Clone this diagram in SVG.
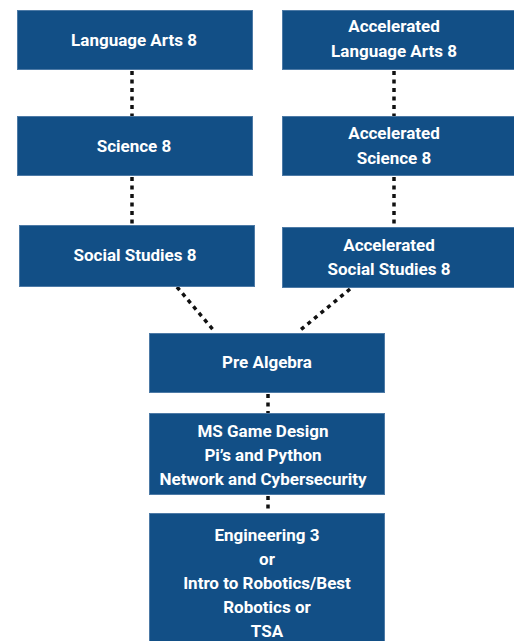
<svg xmlns="http://www.w3.org/2000/svg" width="514" height="641" viewBox="0 0 514 641">
<style>
.box{fill:#124f86;stroke:#4d7aa6;stroke-width:1}
.t{font-family:Roboto,"Liberation Sans",sans-serif;font-weight:bold;font-size:17px;fill:#ffffff;text-anchor:middle}
.c{stroke:#111111;stroke-width:3.5;stroke-dasharray:4 4.5;fill:none}
</style>
<rect width="514" height="641" fill="#ffffff"/>
<g id="connectors">
<line class="c" x1="132" y1="71" x2="132" y2="116"/>
<line class="c" x1="394" y1="71" x2="394" y2="116"/>
<line class="c" x1="132" y1="177" x2="132" y2="225"/>
<line class="c" x1="394" y1="177" x2="394" y2="227"/>
<line class="c" x1="177" y1="287" x2="215" y2="332"/>
<line class="c" x1="350" y1="289" x2="298" y2="332"/>
<line class="c" x1="268" y1="394" x2="268" y2="413"/>
<line class="c" x1="268" y1="496" x2="268" y2="513"/>
</g>
<g id="la8"><rect class="box" x="17.5" y="10.5" width="235" height="59"/><text class="t" x="134" y="46">Language Arts 8</text></g>
<g id="ala8"><rect class="box" x="282.5" y="10.5" width="240" height="59"/><text class="t" x="394" y="32">Accelerated</text><text class="t" x="394" y="57">Language Arts 8</text></g>
<g id="sci8"><rect class="box" x="17.5" y="116.5" width="235" height="59"/><text class="t" x="134" y="152">Science 8</text></g>
<g id="asci8"><rect class="box" x="282.5" y="116.5" width="240" height="59"/><text class="t" x="394" y="139">Accelerated</text><text class="t" x="394" y="164">Science 8</text></g>
<g id="ss8"><rect class="box" x="19.5" y="225.5" width="235" height="61"/><text class="t" x="135" y="261">Social Studies 8</text></g>
<g id="ass8"><rect class="box" x="282.5" y="227.5" width="240" height="60"/><text class="t" x="389" y="251">Accelerated</text><text class="t" x="389" y="275">Social Studies 8</text></g>
<g id="prealg"><rect class="box" x="149.5" y="333.5" width="235" height="59"/><text class="t" x="267" y="368">Pre Algebra</text></g>
<g id="ms"><rect class="box" x="149.5" y="413.5" width="235" height="81"/><text class="t" x="263" y="437">MS Game Design</text><text class="t" x="263" y="461">Pi’s and Python</text><text class="t" x="263" y="485">Network and Cybersecurity</text></g>
<g id="eng"><rect class="box" x="149.5" y="513.5" width="235" height="140"/><text class="t" x="267" y="541">Engineering 3</text><text class="t" x="267" y="565">or</text><text class="t" x="267" y="589">Intro to Robotics/Best</text><text class="t" x="267" y="613">Robotics or</text><text class="t" x="267" y="637">TSA</text></g>
</svg>
